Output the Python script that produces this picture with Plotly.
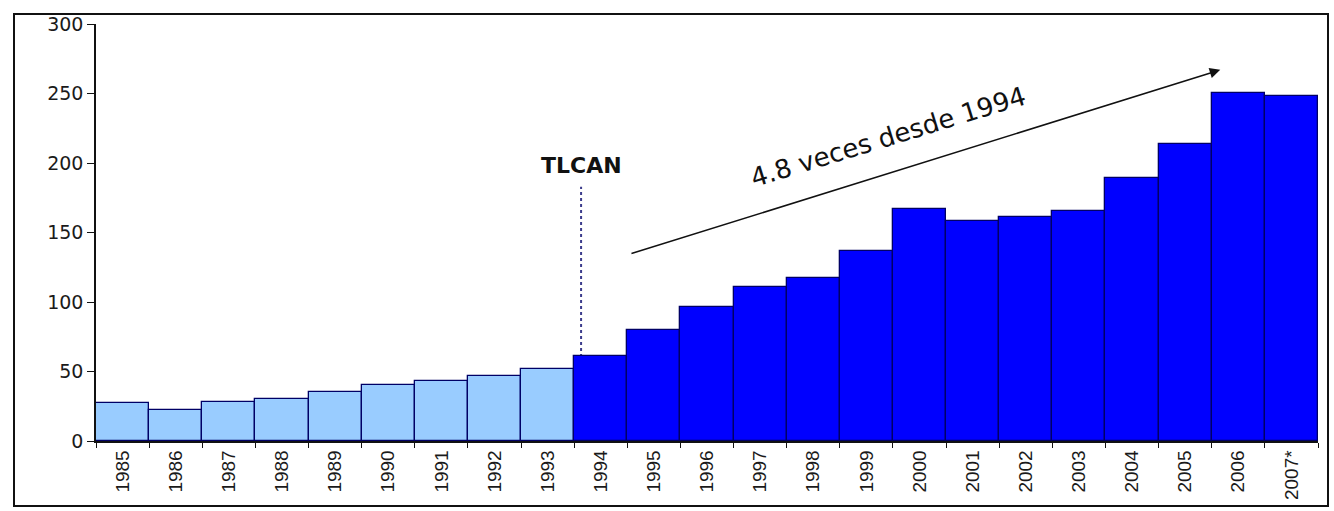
import plotly.graph_objects as go

# Annual values, 1985-2007 (2007 preliminary)
years = ["1985", "1986", "1987", "1988", "1989", "1990", "1991", "1992", "1993",
         "1994", "1995", "1996", "1997", "1998", "1999", "2000", "2001", "2002",
         "2003", "2004", "2005", "2006", "2007*"]
values = [27, 22, 28, 30.5, 35, 40.5, 43, 46.5, 52,
          61, 79.5, 96.5, 110.5, 117, 136.5, 167, 158.5, 161,
          165.5, 189.5, 214, 250.5, 248.5]
y_ticks = [0, 50, 100, 150, 200, 250, 300]

# Years before the agreement in light blue, from 1994 on in strong blue
start_year = "1994"
start_idx = years.index(start_year)
colors = ["#99CCFF" if i < start_idx else "#0000FF" for i in range(len(years))]

W, H = 1334, 511
ML, MR, MT, MB = 96, 16, 24, 70
pw, ph = W - ML - MR, H - MT - MB


def px_to_paper(xp, yp):
    return (xp - ML) / pw, (H - MB - yp) / ph


fig = go.Figure()
fig.add_trace(go.Bar(
    x=years, y=values,
    marker=dict(color=colors, line=dict(color="#000066", width=1.3)),
    width=1.0,
    showlegend=False,
    hoverinfo="x+y",
))

# Outer frame around the whole chart
bx0, by1 = px_to_paper(14, 14)
bx1, by0 = px_to_paper(1328, 506)
fig.add_shape(type="rect", xref="paper", yref="paper",
              x0=bx0, x1=bx1, y0=by0, y1=by1,
              line=dict(color="#111111", width=2), layer="above")

# Dotted marker for the start of TLCAN
tlcan_x = start_idx - 0.5 + 0.13
fig.add_shape(type="line", xref="x", yref="y",
              x0=tlcan_x, x1=tlcan_x, y0=0, y1=183,
              line=dict(color="#3c3c8c", width=2, dash="dot"), layer="below")
fig.add_annotation(x=tlcan_x, y=198, xref="x", yref="y", text="<b>TLCAN</b>",
                   showarrow=False, xanchor="center", yanchor="middle",
                   font=dict(family="DejaVu Sans", size=22, color="#111111"))

# Growth arrow and its label
fig.add_annotation(x=20.66, y=267, xref="x", yref="y",
                   ax=9.55, ay=134.5, axref="x", ayref="y",
                   showarrow=True, arrowhead=2, arrowsize=1.4, arrowwidth=1.5,
                   arrowcolor="#111111", text="")
fig.add_annotation(x=14.4, y=219, xref="x", yref="y",
                   text="4.8 veces desde 1994", textangle=-17,
                   showarrow=False, xanchor="center", yanchor="middle",
                   font=dict(family="DejaVu Sans", size=26, color="#111111"))

fig.update_layout(
    width=W, height=H,
    margin=dict(l=ML, r=MR, t=MT, b=MB),
    paper_bgcolor="white", plot_bgcolor="white",
    bargap=0,
    xaxis=dict(type="category", showline=True, linecolor="#111111", linewidth=1.5,
               ticks="outside", ticklen=5, tickcolor="#111111", tickwidth=1.3,
               tickson="boundaries", tickangle=-90, showgrid=False,
               tickfont=dict(family="Liberation Sans", size=19, color="#1a1a1a"),
               range=[-0.5, len(years) - 0.5]),
    yaxis=dict(range=[0, 300], tickvals=y_ticks, showline=True, linecolor="#111111",
               linewidth=1.5, ticks="outside", ticklen=7, tickcolor="#111111",
               tickwidth=1.3, showgrid=False, zeroline=False,
               tickfont=dict(family="DejaVu Sans", size=19, color="#1a1a1a")),
)

fig.write_html("out.html")
